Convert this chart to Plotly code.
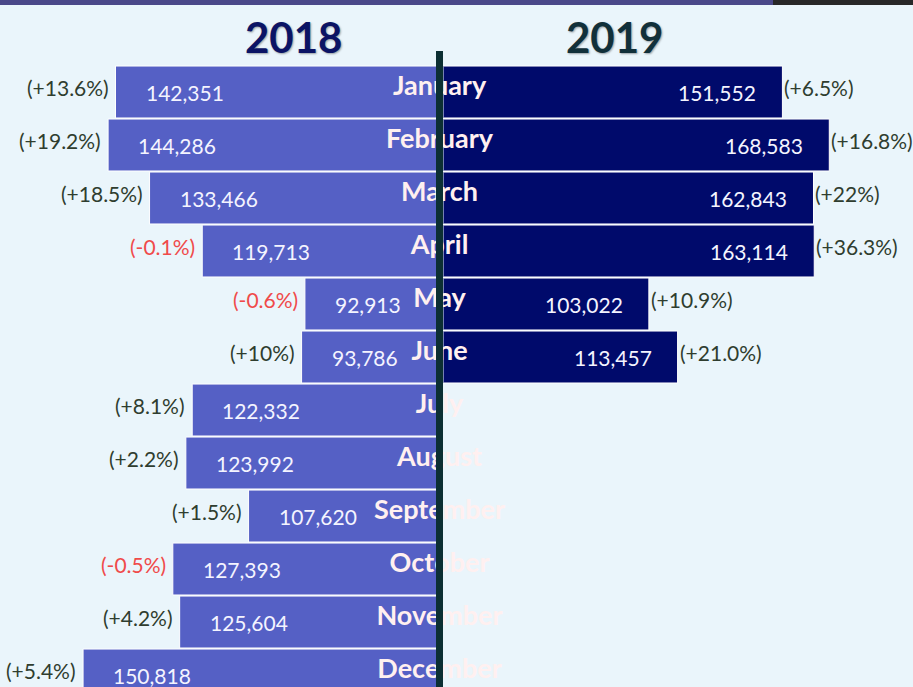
import plotly.graph_objects as go

months = ["January", "February", "March", "April", "May", "June", "July",
          "August", "September", "October", "November", "December"]
v2018 = [142351, 144286, 133466, 119713, 92913, 93786, 122332, 123992,
         107620, 127393, 125604, 150818]
p2018 = ["(+13.6%)", "(+19.2%)", "(+18.5%)", "(-0.1%)", "(-0.6%)", "(+10%)",
         "(+8.1%)", "(+2.2%)", "(+1.5%)", "(-0.5%)", "(+4.2%)", "(+5.4%)"]
months2019 = months[:6]
v2019 = [151552, 168583, 162843, 163114, 103022, 113457]
p2019 = ["(+6.5%)", "(+16.8%)", "(+22%)", "(+36.3%)", "(+10.9%)", "(+21.0%)"]

W, H = 913, 687
BG = "#eaf5fb"
C18 = "#5560c5"
C19 = "#000a6b"
LINE = "#0c2f33"
POS = "#2f3d2f"
NEG = "#f04a4a"
FONT = "Lato"

fig = go.Figure()
fig.add_trace(go.Bar(
    y=months, x=v2018, orientation="h", xaxis="x", yaxis="y",
    marker=dict(color=C18, line=dict(color="white", width=1)),
    hoverinfo="skip", showlegend=False))
fig.add_trace(go.Bar(
    y=months2019, x=v2019, orientation="h", xaxis="x2", yaxis="y",
    marker=dict(color=C19, line=dict(color="white", width=1)),
    hoverinfo="skip", showlegend=False))
fig.add_trace(go.Scatter(
    x=[0] * len(months), y=months, mode="text", text=months,
    textposition="middle center",
    textfont=dict(family=FONT, size=27, color="#fff0f0", weight="bold"),
    xaxis="x3", yaxis="y2", hoverinfo="skip", showlegend=False, cliponaxis=False))

ann = []
for m, v, p in zip(months, v2018, p2018):
    ann.append(dict(x=v, y=m, xref="x", yref="y", text=f"{v:,}", showarrow=False,
                    xanchor="left", xshift=28, yshift=0,
                    font=dict(family=FONT, size=21, color="#f4f4ff")))
    ann.append(dict(x=v, y=m, xref="x", yref="y", text=p, showarrow=False,
                    xanchor="right", xshift=-5, yshift=5,
                    font=dict(family=FONT, size=21, color=NEG if p.startswith("(-") else POS)))
for m, v, p in zip(months2019, v2019, p2019):
    ann.append(dict(x=v, y=m, xref="x2", yref="y", text=f"{v:,}", showarrow=False,
                    xanchor="right", xshift=-24, yshift=0,
                    font=dict(family=FONT, size=21, color="#f4f4ff")))
    ann.append(dict(x=v, y=m, xref="x2", yref="y", text=p, showarrow=False,
                    xanchor="left", xshift=0, yshift=5,
                    font=dict(family=FONT, size=21, color=NEG if p.startswith("(-") else POS)))

title_shadow = "1px 1px 2px rgba(0,0,0,0.35)"
ann.append(dict(x=293.5 / W, y=1 - 37 / H, xref="paper", yref="paper", text="2018",
                showarrow=False, xanchor="center", yanchor="middle",
                font=dict(family=FONT, size=42, color="#0b1465", weight="bold",
                          shadow=title_shadow)))
ann.append(dict(x=614 / W, y=1 - 37 / H, xref="paper", yref="paper", text="2019",
                showarrow=False, xanchor="center", yanchor="middle",
                font=dict(family=FONT, size=42, color="#11303a", weight="bold",
                          shadow=title_shadow)))

shapes = [
    dict(type="rect", xref="paper", yref="paper", x0=436 / W, x1=443 / W,
         y0=0, y1=1 - 51 / H, fillcolor=LINE, line=dict(width=0), layer="above"),
    dict(type="rect", xref="paper", yref="paper", x0=0, x1=773 / W,
         y0=1 - 5 / H, y1=1, fillcolor="#4a4889", line=dict(width=0), layer="above"),
    dict(type="rect", xref="paper", yref="paper", x0=773 / W, x1=1,
         y0=1 - 5 / H, y1=1, fillcolor="#282828", line=dict(width=0), layer="above"),
]

fig.update_layout(
    width=W, height=H, margin=dict(l=0, r=0, t=0, b=0),
    paper_bgcolor=BG, plot_bgcolor="rgba(0,0,0,0)",
    barmode="overlay", bargap=0.02,
    xaxis=dict(domain=[0, 436 / W], range=[172500, 58700], visible=False,
               fixedrange=True, anchor="y"),
    xaxis2=dict(domain=[443.5 / W, 1], range=[28400, 199000], visible=False,
                fixedrange=True, anchor="y"),
    xaxis3=dict(domain=[0.4314, 0.5314], range=[-1, 1], visible=False,
                fixedrange=True, anchor="y2"),
    yaxis=dict(type="category", categoryorder="array", categoryarray=months,
               range=[11.226, -1.736], visible=False, fixedrange=True),
    yaxis2=dict(type="category", categoryorder="array", categoryarray=months,
                range=[11.301, -1.661], visible=False, fixedrange=True,
                overlaying="y", anchor="x3"),
    annotations=ann, shapes=shapes,
    font=dict(family=FONT),
)

fig.write_html("out.html", config={"displayModeBar": False},
               post_script="document.body.style.margin='0';")
